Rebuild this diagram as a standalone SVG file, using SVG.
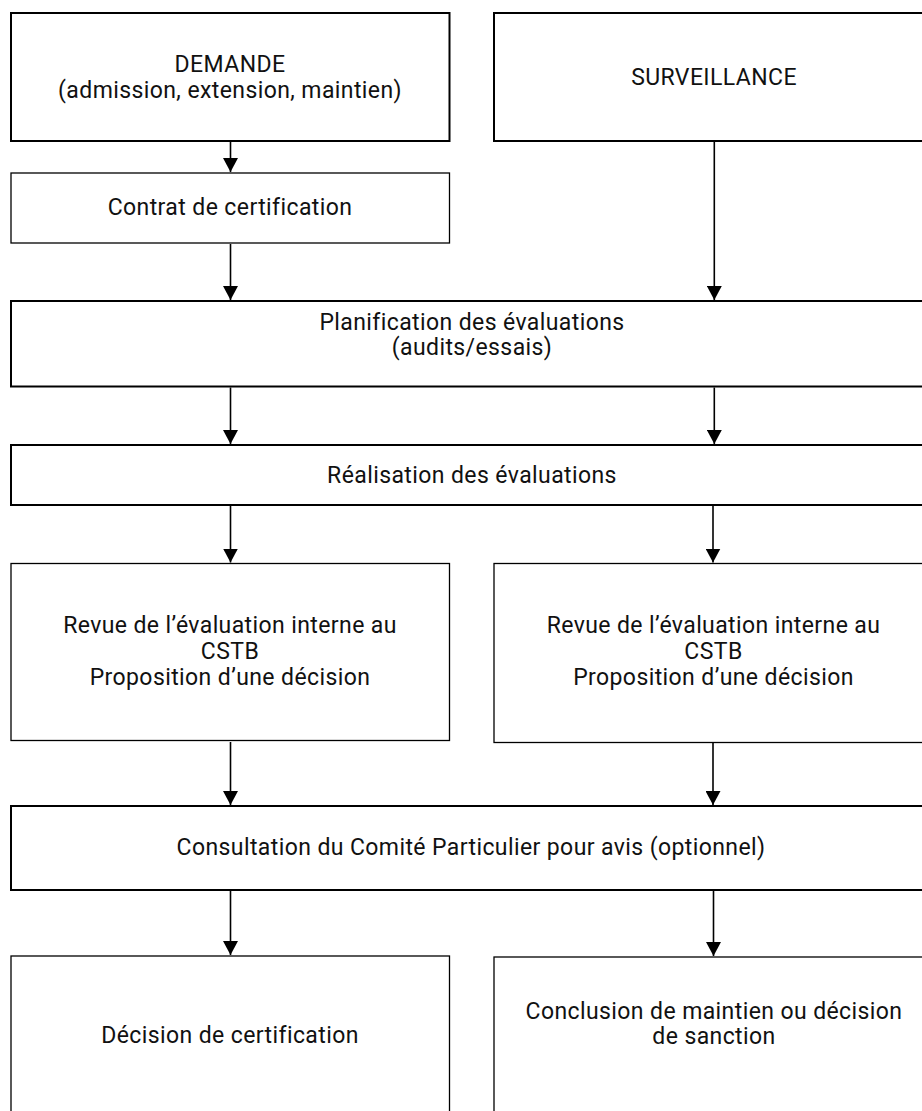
<svg xmlns="http://www.w3.org/2000/svg" width="922" height="1111" viewBox="0 0 922 1111">
<style>
.box{fill:#fff;stroke:#000;stroke-width:2}
.thin{stroke-width:1.3}
text{font-family:Roboto,"Liberation Sans",sans-serif;font-size:23px;letter-spacing:0.4px;fill:#111;text-anchor:middle}
.conn line{stroke:#000;stroke-width:1.6}
</style>
<defs>
<marker id="ah" markerWidth="14" markerHeight="15" refX="14" refY="7.5" orient="auto" markerUnits="userSpaceOnUse">
<path d="M0,0 L14,7.5 L0,15 Z" fill="#000"/>
</marker>
</defs>
<rect width="922" height="1111" fill="#fff"/>
<g id="demande">
<rect class="box" x="11" y="13" width="438.5" height="128"/>
<text x="230" y="72">DEMANDE</text>
<text x="230" y="97.5">(admission, extension, maintien)</text>
</g>
<g id="surveillance">
<rect class="box" x="494" y="13" width="440" height="128"/>
<text x="714" y="85">SURVEILLANCE</text>
</g>
<g id="contrat">
<rect class="box thin" x="11" y="173" width="438.5" height="70"/>
<text x="230" y="215">Contrat de certification</text>
</g>
<g id="planification">
<rect class="box" x="11" y="301" width="923" height="85.5"/>
<text x="472" y="330">Planification des évaluations</text>
<text x="472" y="355">(audits/essais)</text>
</g>
<g id="realisation">
<rect class="box" x="11" y="445" width="923" height="60"/>
<text x="472" y="483">Réalisation des évaluations</text>
</g>
<g id="revue-gauche">
<rect class="box thin" x="11" y="563.5" width="438.5" height="177"/>
<text x="230" y="633">Revue de l’évaluation interne au</text>
<text x="230" y="659">CSTB</text>
<text x="230" y="685">Proposition d’une décision</text>
</g>
<g id="revue-droite">
<rect class="box thin" x="494" y="563.5" width="440" height="179"/>
<text x="713.5" y="633">Revue de l’évaluation interne au</text>
<text x="713.5" y="659">CSTB</text>
<text x="713.5" y="685">Proposition  d’une décision</text>
</g>
<g id="consultation">
<rect class="box" x="11" y="806" width="923" height="84"/>
<text x="471" y="855">Consultation du Comité Particulier pour avis (optionnel)</text>
</g>
<g id="decision">
<rect class="box thin" x="11" y="956" width="438.5" height="170"/>
<text x="230" y="1042.5">Décision de certification</text>
</g>
<g id="conclusion">
<rect class="box thin" x="494" y="957" width="440" height="170"/>
<text x="714" y="1019">Conclusion de maintien ou décision</text>
<text x="714" y="1044">de sanction</text>
</g>
<g id="connecteurs" class="conn">
<line x1="230.5" y1="142" x2="230.5" y2="172" marker-end="url(#ah)"/>
<line x1="230.5" y1="244" x2="230.5" y2="300" marker-end="url(#ah)"/>
<line x1="714.3" y1="142" x2="714.3" y2="300" marker-end="url(#ah)"/>
<line x1="230.5" y1="387.5" x2="230.5" y2="444" marker-end="url(#ah)"/>
<line x1="714.3" y1="387.5" x2="714.3" y2="444" marker-end="url(#ah)"/>
<line x1="230.5" y1="506" x2="230.5" y2="562.5" marker-end="url(#ah)"/>
<line x1="713" y1="506" x2="713" y2="562.5" marker-end="url(#ah)"/>
<line x1="230.5" y1="742" x2="230.5" y2="805" marker-end="url(#ah)"/>
<line x1="713" y1="743" x2="713" y2="805" marker-end="url(#ah)"/>
<line x1="230.5" y1="891" x2="230.5" y2="955" marker-end="url(#ah)"/>
<line x1="713.5" y1="891" x2="713.5" y2="956" marker-end="url(#ah)"/>
</g>
</svg>
